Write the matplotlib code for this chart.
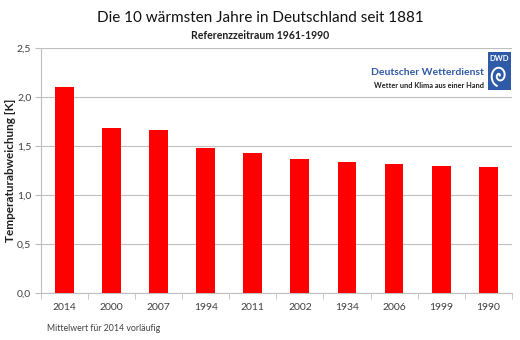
import numpy as np
import matplotlib
matplotlib.use("Agg")
import matplotlib.pyplot as plt
from matplotlib.patches import Rectangle

plt.rcParams['font.family'] = ['Lato', 'DejaVu Sans']

jahre = ['2014', '2000', '2007', '1994', '2011', '2002', '1934', '2006', '1999', '1990']
abweichung = [2.10, 1.68, 1.66, 1.48, 1.43, 1.37, 1.34, 1.32, 1.30, 1.29]
yticks = [0.0, 0.5, 1.0, 1.5, 2.0, 2.5]
ylabels = ['0,0', '0,5', '1,0', '1,5', '2,0', '2,5']

grid_col = '#bfbfbf'
text_col = '#404040'

fig = plt.figure(figsize=(5.2, 3.4), dpi=100, facecolor='white')
ax = fig.add_axes([0.079, 0.138, 0.905, 0.721])

x = np.arange(len(jahre))
ax.bar(x, abweichung, width=0.4, color='#ff0000', zorder=3)

ax.set_xlim(-0.5, len(jahre) - 0.5)
ax.set_ylim(0, 2.5)
ax.set_yticks(yticks)
ax.set_yticklabels(ylabels, fontsize=7.5, color=text_col)
ax.set_xticks(x)
ax.set_xticklabels(jahre, fontsize=7.5, color=text_col)
ax.tick_params(axis='x', length=0, pad=7)
ax.tick_params(axis='y', length=4, color=grid_col, direction='out', pad=3)
# Excel-style ticks between the categories
ax.set_xticks(np.arange(len(jahre) + 1) - 0.5, minor=True)
ax.tick_params(axis='x', which='minor', length=4, color=grid_col, direction='out')
ax.yaxis.grid(True, color=grid_col, linewidth=0.8, zorder=0)
for s in ['top', 'right']:
    ax.spines[s].set_visible(False)
ax.spines['left'].set_color(grid_col)
ax.spines['bottom'].set_color(grid_col)

ax.set_ylabel('Temperaturabweichung [K]', fontsize=8.5, fontweight='bold', color='#202020', labelpad=1)

fig.text(0.5, 0.947, 'Die 10 wärmsten Jahre in Deutschland seit 1881', ha='center', va='center',
         fontsize=11, color='#111111')
fig.text(0.5, 0.897, 'Referenzzeitraum 1961-1990', ha='center', va='center',
         fontsize=7.6, fontweight='bold', color='#202020')
fig.text(0.09, 0.035, 'Mittelwert für 2014 vorläufig', ha='left', va='center',
         fontsize=6.3, color=text_col)

# DWD logo block
fig.text(0.931, 0.788, 'Deutscher Wetterdienst', ha='right', va='center',
         fontsize=7.5, fontweight='bold', color='#2f5aa8')
fig.text(0.931, 0.750, 'Wetter und Klima aus einer Hand', ha='right', va='center',
         fontsize=5.3, fontweight='bold', color='#202020')
logo = fig.add_axes([0.938, 0.735, 0.045, 0.112])
logo.set_xlim(0, 1)
logo.set_ylim(0, 1)
logo.axis('off')
logo.add_patch(Rectangle((0, 0), 1, 1, color='#2f5aa8'))
logo.text(0.5, 0.84, 'DWD', ha='center', va='center', fontsize=5.5, fontweight='bold', color='white')
t = np.linspace(0.3, 3.4 * np.pi, 200)
r = 0.035 * t
logo.plot(0.5 + r * np.cos(t), 0.38 + r * np.sin(t) * 0.75, color='white', linewidth=1.4)

fig.savefig('out.png', dpi=100, facecolor='white')
